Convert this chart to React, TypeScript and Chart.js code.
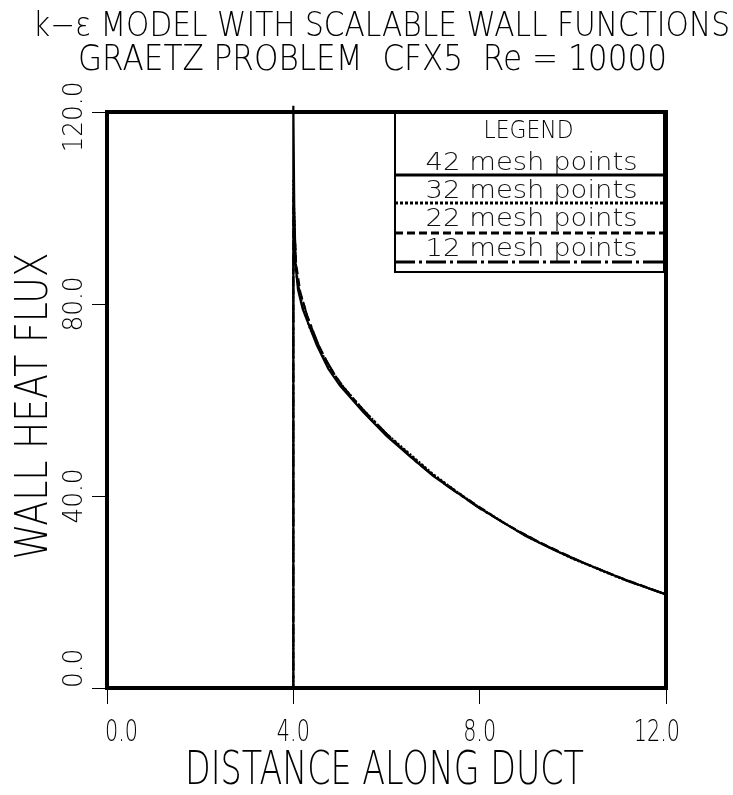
import React, { useEffect, useRef } from "react";
import { Chart, registerables } from "chart.js";

Chart.register(...registerables);

const titleLines = ["k\u2212\u03b5 MODEL WITH SCALABLE WALL FUNCTIONS", "GRAETZ PROBLEM  CFX5  Re = 10000"];
const xTitle = "DISTANCE ALONG DUCT";
const yTitle = "WALL HEAT FLUX";
const legendTitle = "LEGEND";

const xTicks = [0, 4, 8, 12];
const yTicks = [0, 40, 80, 120];

const seriesLabels = ["42 mesh points", "32 mesh points", "22 mesh points", "12 mesh points"];

const mesh42X = [0, 4.0, 4.0, 4.02, 4.05, 4.1, 4.2, 4.3, 4.5, 4.75, 5.0, 5.5, 6.0, 6.5, 7.0, 7.5, 8.0, 8.5, 9.0, 9.5, 10.0, 10.5, 11.0, 11.5, 12.0];
const mesh42Y = [0, 0, 121.3, 100, 88, 83, 79, 76.5, 71.5, 66.5, 63, 57.5, 52.5, 48.3, 44.2, 40.8, 37.5, 34.5, 31.6, 29.2, 27, 25, 23, 21.2, 19.5];

const mesh32X = [0, 4.0, 4.0, 4.05, 4.1, 4.2, 4.35, 4.5, 4.75, 5.0, 5.5, 6.0, 6.5, 7.0, 7.5, 8.0, 9.0, 10.0, 11.0, 12.0];
const mesh32Y = [0, 0, 106, 89, 84, 79.5, 75, 72, 67.2, 63.6, 58, 53, 48.8, 44.6, 41, 37.6, 31.6, 26.9, 22.9, 19.5];

const mesh22X = [0, 4.0, 4.0, 4.06, 4.15, 4.3, 4.5, 4.8, 5.2, 5.7, 6.3, 7.0, 7.7, 8.5, 9.3, 10.2, 11.1, 12.0];
const mesh22Y = [0, 0, 102, 88.5, 82.5, 77.5, 72.3, 66.5, 61, 55.5, 50.3, 44.4, 39.6, 34.5, 30.3, 26.2, 22.7, 19.5];

const mesh12X = [0, 4.0, 4.0, 4.1, 4.3, 4.6, 5.0, 5.5, 6.0, 6.6, 7.3, 8.0, 8.8, 9.6, 10.4, 11.2, 12.0];
const mesh12Y = [0, 0, 90, 84, 77.5, 70, 63.5, 58, 53, 47.4, 42.1, 37.4, 32.8, 28.8, 25.4, 22.2, 19.5];

const SANS = '"DejaVu Sans", "Liberation Sans", sans-serif';

function pts(xs: number[], ys: number[]) {
  return xs.map((x, i) => ({ x, y: ys[i] }));
}

function fitText(ctx: CanvasRenderingContext2D, text: string, x: number, y: number, width: number, size: number, color = "#000") {
  ctx.save();
  ctx.font = `200 ${size}px ${SANS}`;
  const w = ctx.measureText(text).width;
  ctx.translate(x, y);
  ctx.scale(width / w, 1);
  ctx.textAlign = "center";
  ctx.textBaseline = "alphabetic";
  ctx.fillStyle = color;
  ctx.fillText(text, 0, 0);
  ctx.restore();
}

function measure(ctx: CanvasRenderingContext2D, text: string, size: number) {
  ctx.save();
  ctx.font = `200 ${size}px ${SANS}`;
  const w = ctx.measureText(text).width;
  ctx.restore();
  return w;
}

const decorPlugin = {
  id: "decor",
  afterDraw(chart: any) {
    const ctx: CanvasRenderingContext2D = chart.ctx;
    const a = chart.chartArea;
    const xs = chart.scales.x;
    const ys = chart.scales.y;

    // frame
    ctx.save();
    ctx.strokeStyle = "#000";
    ctx.lineWidth = 4;
    ctx.strokeRect(a.left, a.top, a.right - a.left, a.bottom - a.top);
    ctx.restore();

    // titles
    fitText(ctx, titleLines[0], 381.5, 36, 697, 33);
    fitText(ctx, titleLines[1], 372.5, 70, 589, 35);
    fitText(ctx, xTitle, 384.5, a.bottom + 96, 399, 46);
    ctx.save();
    ctx.translate(a.left - 60, (a.top + a.bottom) / 2 + 6);
    ctx.rotate(-Math.PI / 2);
    fitText(ctx, yTitle, 0, 0, 307, 45);
    ctx.restore();

    // x tick labels
    const xsx = 33 / measure(ctx, "4.0", 30);
    xTicks.forEach((v, i) => {
      const px = xs.getPixelForValue(v);
      const t = v.toFixed(1);
      const w = measure(ctx, t, 30) * xsx;
      let cx = px;
      if (i === 0) cx = px - 2 + w / 2;
      else if (i === xTicks.length - 1) cx = px + 14 - w / 2;
      fitText(ctx, t, cx, a.bottom + 53, w, 30);
    });

    // y tick labels
    const ysx = 55 / measure(ctx, "80.0", 27);
    yTicks.forEach((v, i) => {
      const py = ys.getPixelForValue(v);
      const t = v.toFixed(1);
      const w = measure(ctx, t, 27) * ysx;
      let c = py;
      if (i === 0) c = py - w / 2;
      else if (i === yTicks.length - 1) c = py + 5;
      ctx.save();
      ctx.translate(a.left - 25, c);
      ctx.rotate(-Math.PI / 2);
      fitText(ctx, t, 0, 0, w, 27);
      ctx.restore();
    });

    // legend box
    const L = 395, R = a.right - 2, T = a.top, B = 272;
    ctx.save();
    ctx.strokeStyle = "#000";
    ctx.lineWidth = 2;
    ctx.strokeRect(L, T, R - L, B - T);
    ctx.restore();
    const cx = (L + R) / 2;
    fitText(ctx, legendTitle, cx - 1, 138, 90, 25);
    const textBase = [170, 198, 226, 256];
    const lineY = [175, 203, 233, 262];
    chart.data.datasets.forEach((ds: any, i: number) => {
      fitText(ctx, ds.label, cx + 2, textBase[i], 212, 25, "#111");
      ctx.save();
      ctx.strokeStyle = "#000";
      ctx.lineWidth = 3;
      ctx.setLineDash(ds.legendDash || []);
      ctx.beginPath();
      ctx.moveTo(L, lineY[i]);
      ctx.lineTo(R, lineY[i]);
      ctx.stroke();
      ctx.restore();
    });
  },
};

export default function App() {
  const ref = useRef<HTMLCanvasElement | null>(null);
  useEffect(() => {
    if (!ref.current) return;
    const chart = new Chart(ref.current, {
      type: "line",
      data: {
        datasets: [
          { label: seriesLabels[0], data: pts(mesh42X, mesh42Y), borderColor: "#000", borderWidth: 2.2, borderDash: [], legendDash: [], clip: false } as any,
          { label: seriesLabels[1], data: pts(mesh32X, mesh32Y), borderColor: "#000", borderWidth: 2, borderDash: [2, 2], legendDash: [3, 2] } as any,
          { label: seriesLabels[2], data: pts(mesh22X, mesh22Y), borderColor: "#000", borderWidth: 2, borderDash: [8, 4], legendDash: [8, 4] } as any,
          { label: seriesLabels[3], data: pts(mesh12X, mesh12Y), borderColor: "#000", borderWidth: 2, borderDash: [18, 4, 3, 4], legendDash: [20, 4, 3, 4] } as any,
        ],
      },
      options: {
        animation: false,
        responsive: false,
        maintainAspectRatio: false,
        elements: { point: { radius: 0 }, line: { tension: 0 } },
        layout: { padding: { left: 92, right: 67, top: 112, bottom: 91 } },
        plugins: { legend: { display: false }, tooltip: { enabled: false }, title: { display: false } },
        scales: {
          x: {
            type: "linear",
            min: 0,
            max: 12,
            ticks: { display: false, stepSize: 4 },
            grid: { drawOnChartArea: false, drawTicks: true, tickLength: 16, color: "#000", lineWidth: 1 },
            border: { display: false },
          },
          y: {
            type: "linear",
            min: 0,
            max: 120,
            ticks: { display: false, stepSize: 40 },
            grid: { drawOnChartArea: false, drawTicks: true, tickLength: 15, color: "#000", lineWidth: 1 },
            border: { display: false },
          },
        },
      },
      plugins: [decorPlugin],
    });
    return () => chart.destroy();
  }, []);
  return (
    <div style={{ position: "fixed", left: 0, top: 0, width: 733, height: 795, background: "#fff" }}>
      <canvas ref={ref} width={733} height={795} />
    </div>
  );
}
